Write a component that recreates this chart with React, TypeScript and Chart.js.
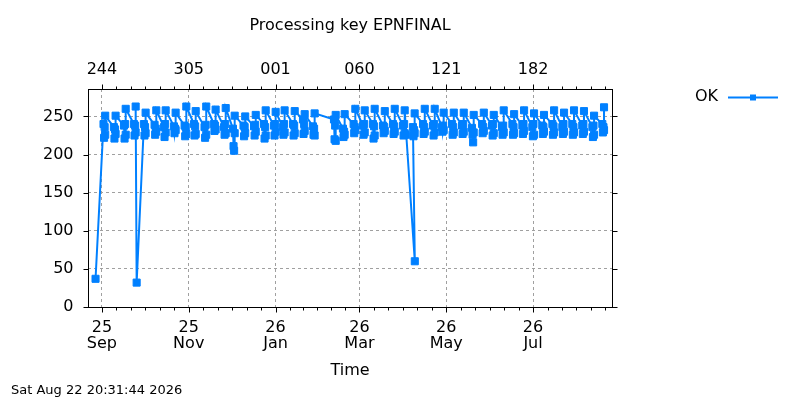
import { useEffect, useRef } from 'react';
import { Chart, registerables } from 'chart.js';

Chart.register(...registerables);

// ---- texts ----
const chartTitle = 'Processing key EPNFINAL';
const seriesLabel = 'OK';
const xAxisTitle = 'Time';
const timestampText = 'Sat Aug 22 20:31:44 2026';

// ---- axes (x values are days since 2025-09-01) ----
const xMin = -9.8;
const xMax = 358.5;
const majorTickDays = [0, 61, 122, 181, 242, 303];
const bottomTickLabels = [['25', 'Sep'], ['25', 'Nov'], ['26', 'Jan'], ['26', 'Mar'], ['26', 'May'], ['26', 'Jul']];
const topTickLabels = ['244', '305', '001', '060', '121', '182'];
const minorPerMajor = 6;
const yMin = 0;
const yMax = 286;
const yTickValues = [0, 50, 100, 150, 200, 250];

// ---- series "OK" ----
// weekly peak day and value
const peakDays = [
  2.3, 9.6, 16.7, 23.7, 30.7, 38.2, 44.8, 51.8, 59.3, 65.9,
  73.3, 79.9, 87.0, 93.3, 100.7, 108.1, 115.1, 122.1, 128.4, 135.5,
  142.5, 149.5, 164.3, 170.6, 178.1, 184.7, 191.7, 198.8, 205.8, 212.8,
  219.8, 226.9, 233.9, 240.2, 247.3, 254.3, 261.3, 268.4, 275.4, 282.4,
  289.7, 296.7, 303.7, 310.7, 317.8, 324.8, 331.8, 338.8, 345.9, 352.9,
];
const peakValues = [
  251, 251, 260, 263, 255, 258, 258, 255, 263, 257,
  263, 259, 261, 251, 250, 252, 258, 256, 258, 257,
  253, 254, 252, 253, 260, 258, 260, 257, 260, 258,
  254, 260, 260, 255, 255, 255, 252, 255, 252, 258,
  253, 258, 254, 252, 258, 255, 258, 257, 251, 262,
];
// the runs just before each weekly peak
const blockOffsets = [-1.2, -0.8, -0.4, 0];
const blockValues = [
  [240, 222, 236, 226], [236, 221, 233, 227], [238, 221, 240, 226], [240, 225, 238, 229], [240, 225, 236, 228],
  [239, 226, 234, 230], [236, 223, 240, 229], [237, 228, 234, 232], [238, 224, 236, 227], [240, 225, 237, 227],
  [236, 222, 239, 226], [240, 231, 238, 233], [236, 226, 240, 228], [234, 211, 205, 228], [238, 224, 236, 228],
  [237, 225, 239, 230], [240, 221, 236, 225], [238, 225, 240, 230], [236, 226, 240, 229], [240, 225, 238, 228],
  [246, 227, 240, 231], [237, 226, 234, 225], [246, 220, 238, 218], [234, 223, 230, 226], [240, 228, 236, 232],
  [238, 226, 240, 229], [240, 221, 237, 225], [238, 228, 236, 231], [240, 227, 237, 230], [238, 225, 240, 228],
  [236, 224, 232, 228], [240, 227, 236, 230], [238, 225, 240, 229], [236, 230, 238, 232], [240, 226, 236, 229],
  [238, 227, 240, 230], [235, 226, 216, 229], [240, 228, 236, 231], [238, 225, 240, 228], [236, 226, 238, 229],
  [240, 226, 236, 228], [238, 227, 240, 231], [236, 224, 240, 226], [238, 227, 236, 230], [240, 226, 237, 229],
  [236, 227, 240, 230], [240, 226, 236, 229], [238, 227, 240, 230], [236, 223, 238, 226], [240, 229, 236, 232],
];
const leadInPoint = { day: -4.5, value: 37 };
const extraAfterWeek = [
  { week: 3, days: [24.4], values: [32] },
  { week: 29, days: [213.9, 219.9], values: [226, 60] },
];

const lineColor = '#0080ff';
const font = 'DejaVu Sans';

function buildPoints() {
  const pts: { x: number; y: number }[] = [{ x: leadInPoint.day, y: leadInPoint.value }];
  peakDays.forEach((p, i) => {
    blockOffsets.forEach((o, j) => pts.push({ x: +(p + o).toFixed(2), y: blockValues[i][j] }));
    pts.push({ x: p, y: peakValues[i] });
    extraAfterWeek.filter((e) => e.week === i).forEach((e) => {
      e.days.forEach((d, k) => pts.push({ x: d, y: e.values[k] }));
    });
  });
  return pts;
}

function buildMinorTicks() {
  const res: number[] = [];
  for (let i = 0; i < majorTickDays.length; i++) {
    const a = majorTickDays[i];
    const b = i + 1 < majorTickDays.length ? majorTickDays[i + 1] : a + 61;
    const step = (b - a) / minorPerMajor;
    for (let j = 1; j < minorPerMajor; j++) {
      const v = a + step * j;
      if (v > xMin && v < xMax) res.push(v);
    }
  }
  return res;
}

const minorTicks = buildMinorTicks();
const allXTicks = [...majorTickDays, ...minorTicks].sort((a, b) => a - b);

const decorPlugin = {
  id: 'decor',
  afterDraw(chart: any) {
    const { ctx, chartArea: a, scales } = chart;
    const al = (v: number) => Math.round(v) + 0.5;
    ctx.save();
    ctx.strokeStyle = '#000';
    ctx.lineWidth = 1;
    ctx.setLineDash([]);
    ctx.strokeRect(al(a.left), al(a.top), Math.round(a.right) - Math.round(a.left), Math.round(a.bottom) - Math.round(a.top));
    ctx.beginPath();
    allXTicks.forEach((v) => {
      const len = majorTickDays.includes(v) ? 5 : 3;
      const x = al(scales.x.getPixelForValue(v));
      ctx.moveTo(x, al(a.bottom)); ctx.lineTo(x, al(a.bottom) + len);
      ctx.moveTo(x, al(a.top)); ctx.lineTo(x, al(a.top) - len);
    });
    yTickValues.forEach((v) => {
      const y = al(scales.y.getPixelForValue(v));
      ctx.moveTo(al(a.left), y); ctx.lineTo(al(a.left) - 5, y);
      ctx.moveTo(al(a.right), y); ctx.lineTo(al(a.right) + 5, y);
    });
    ctx.stroke();

    // key
    ctx.fillStyle = '#000';
    ctx.font = `16px "${font}"`;
    ctx.textAlign = 'right';
    ctx.textBaseline = 'middle';
    ctx.fillText(seriesLabel, 718, 97);
    ctx.strokeStyle = lineColor;
    ctx.lineWidth = 2;
    ctx.beginPath();
    ctx.moveTo(728, 97.5); ctx.lineTo(778, 97.5);
    ctx.stroke();
    ctx.fillStyle = lineColor;
    ctx.fillRect(750, 94.5, 6, 6);

    // timestamp
    ctx.fillStyle = '#000';
    ctx.font = `13px "${font}"`;
    ctx.textAlign = 'left';
    ctx.textBaseline = 'alphabetic';
    ctx.fillText(timestampText, 11, 394);
    ctx.restore();
  },
};

export default function App() {
  const ref = useRef<HTMLCanvasElement>(null);
  useEffect(() => {
    if (!ref.current) return;
    Chart.defaults.font.family = font;
    Chart.defaults.color = '#000';
    const gridColor = (c: any) => (c.tick && majorTickDays.includes(c.tick.value) ? '#a0a0a0' : 'rgba(0,0,0,0)');
    const chart = new Chart(ref.current, {
      type: 'line',
      data: {
        datasets: [
          {
            label: seriesLabel,
            data: buildPoints(),
            borderColor: lineColor,
            backgroundColor: lineColor,
            borderWidth: 2,
            pointStyle: 'rect',
            pointRadius: 5,
            pointBorderWidth: 1,
            pointBorderColor: lineColor,
            pointBackgroundColor: lineColor,
            tension: 0,
            fill: false,
          } as any,
        ],
      },
      options: {
        animation: false,
        responsive: false,
        parsing: false as any,
        normalized: false,
        layout: { padding: { left: 0, top: 0, right: 188, bottom: 19.9 } },
        plugins: {
          legend: { display: false },
          tooltip: { enabled: false },
          title: {
            display: true,
            text: chartTitle,
            fullSize: false,
            color: '#000',
            font: { size: 16, weight: 'normal', lineHeight: 1.2 },
            padding: { top: 16.4, bottom: 4 },
          },
        },
        scales: {
          x: {
            type: 'linear',
            position: 'bottom',
            min: xMin,
            max: xMax,
            afterBuildTicks: (s: any) => { s.ticks = allXTicks.map((v) => ({ value: v })); },
            afterFit: (s: any) => { s.height = 73.1; },
            ticks: {
              autoSkip: false,
              maxRotation: 0,
              minRotation: 0,
              padding: 13,
              color: '#000',
              font: { size: 16, lineHeight: 0.975 },
              callback: (v: any) => {
                const i = majorTickDays.indexOf(v);
                return i >= 0 ? bottomTickLabels[i] : '';
              },
            },
            grid: { drawTicks: false, color: gridColor, lineWidth: 1 },
            border: { display: false, dash: [3, 3] },
            title: { display: true, text: xAxisTitle, color: '#000', font: { size: 16, lineHeight: 1.2 }, padding: 0 },
          },
          x2: {
            type: 'linear',
            position: 'top',
            min: xMin,
            max: xMax,
            afterBuildTicks: (s: any) => { s.ticks = allXTicks.map((v) => ({ value: v })); },
            afterFit: (s: any) => { s.height = 49.4; },
            ticks: {
              autoSkip: false,
              maxRotation: 0,
              minRotation: 0,
              padding: 10,
              color: '#000',
              font: { size: 16, lineHeight: 1.2 },
              callback: (v: any) => {
                const i = majorTickDays.indexOf(v);
                return i >= 0 ? topTickLabels[i] : '';
              },
            },
            grid: { display: false, drawTicks: false },
            border: { display: false },
          },
          y: {
            type: 'linear',
            position: 'left',
            min: yMin,
            max: yMax,
            afterBuildTicks: (s: any) => { s.ticks = yTickValues.map((v) => ({ value: v })); },
            afterFit: (s: any) => { s.width = 88; },
            ticks: { padding: 14.5, color: '#000', font: { size: 16, lineHeight: 1.2 } },
            grid: { drawTicks: false, color: '#a0a0a0', lineWidth: 1 },
            border: { display: false, dash: [3, 3] },
          },
        },
      } as any,
      plugins: [decorPlugin],
    });
    return () => chart.destroy();
  }, []);
  return (
    <div style={{ position: 'absolute', left: 0, top: 0, width: 800, height: 400 }}>
      <canvas ref={ref} width={800} height={400} style={{ display: 'block', width: 800, height: 400 }} />
    </div>
  );
}
